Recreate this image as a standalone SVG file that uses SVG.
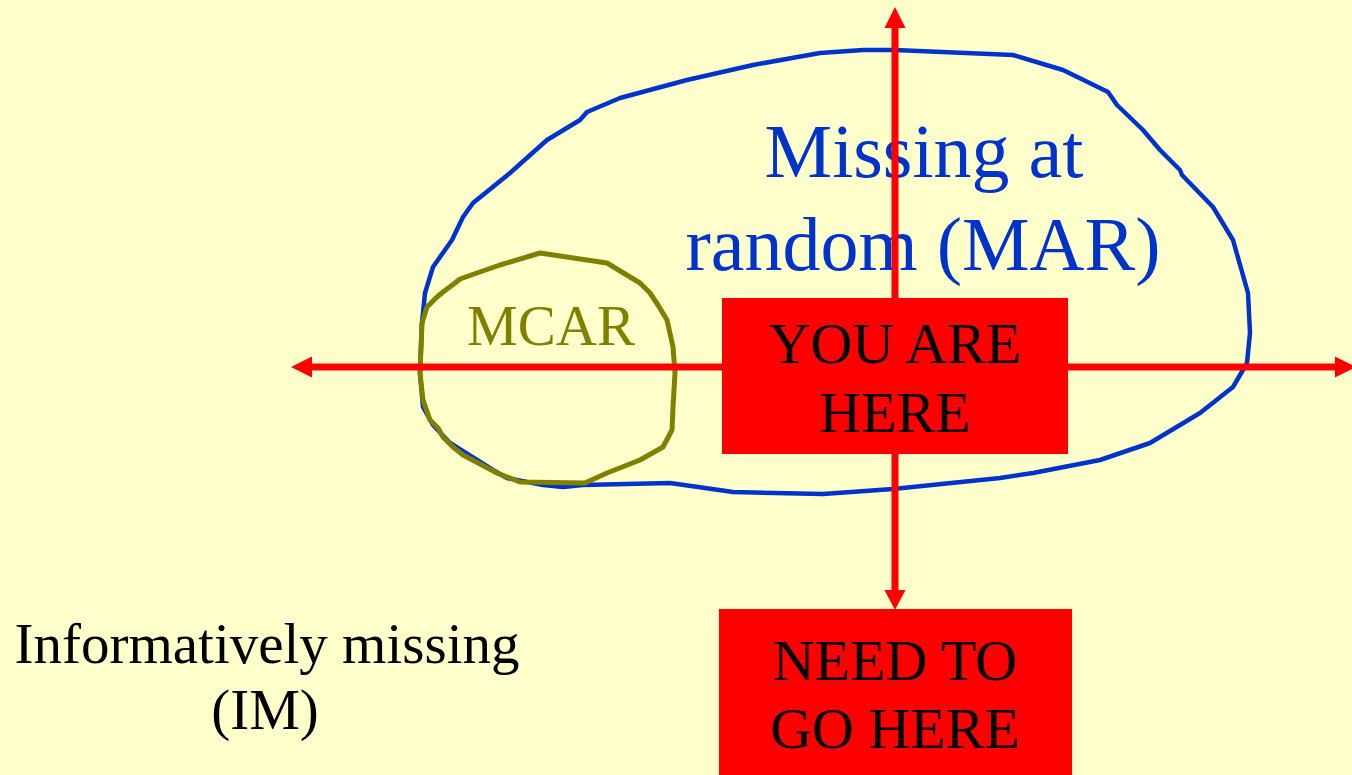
<svg xmlns="http://www.w3.org/2000/svg" width="1352" height="775" viewBox="0 0 1352 775">
<style>
.t{font-family:"Liberation Serif","Times New Roman",serif;text-anchor:middle}
.conn{stroke:#FF0000;stroke-width:7;fill:none}
.head{fill:#FF0000}
.box{fill:#FF0000}
</style>
<rect width="1352" height="775" fill="#FFFFCC"/>
<g id="mar">
<path d="M563,487 L543,485 L507,478 L493,470 L450,443 L433,425 L423,407 L420,373 L422,323 L425,293 L433,267 L452,240 L463,217 L473,203 L510,173 L547,140 L580,120 L587,112 L620,98 L687,80 L753,65 L820,53 L863,50 L895,50 L1013,55 L1063,70 L1108,92 L1117,105 L1143,130 L1160,150 L1180,170 L1182,175 L1213,207 L1233,240 L1248,293 L1250,333 L1247,363 L1233,387 L1200,413 L1150,443 L1100,460 L1033,473 L1000,478 L893,489 L823,494 L733,492 L670,483 L583,485 Z" fill="none" stroke="#0033CC" stroke-width="4.5" stroke-linejoin="round"/>
<text class="t" x="924" y="177" font-size="76" fill="#0033CC">Missing at</text>
<text class="t" x="923" y="270" font-size="76" fill="#0033CC">random (MAR)</text>
</g>
<g id="mcar">
<path d="M540,253 L607,263 L640,283 L650,293 L658,305 L667,320 L673,347 L675,373 L673,407 L672,430 L663,447 L640,460 L607,473 L585,483 L520,482 L497,473 L463,455 L453,447 L443,437 L438,428 L430,420 L423,400 L420,373 L422,323 L427,307 L437,297 L443,292 L455,283 L460,279 L477,273 L500,265 Z" fill="none" stroke="#808000" stroke-width="5" stroke-linejoin="round"/>
<text class="t" x="551" y="345" font-size="57" fill="#808000">MCAR</text>
</g>
<g id="connectors">
<line class="conn" x1="895" y1="298" x2="895" y2="26"/>
<polygon class="head" points="895,7 884.5,28 905.5,28"/>
<line class="conn" x1="722" y1="367" x2="310" y2="367"/>
<polygon class="head" points="291,367 312,356.5 312,377.5"/>
<line class="conn" x1="1068" y1="367" x2="1337" y2="367"/>
<polygon class="head" points="1356,367 1335,356.5 1335,377.5"/>
<line class="conn" x1="895" y1="454" x2="895" y2="592"/>
<polygon class="head" points="895,610 884.5,590 905.5,590"/>
</g>
<g id="you-are-here">
<rect class="box" x="722" y="298" width="346" height="156"/>
<text class="t" x="895" y="363" font-size="58" fill="#000">YOU ARE</text>
<text class="t" x="895" y="432" font-size="58" fill="#000">HERE</text>
</g>
<g id="need-to-go-here">
<rect class="box" x="719" y="609" width="353" height="166"/>
<text class="t" x="895" y="680" font-size="58" fill="#000">NEED TO</text>
<text class="t" x="895" y="748" font-size="58" fill="#000">GO HERE</text>
</g>
<g id="im">
<text class="t" x="267" y="663" font-size="57" fill="#000">Informatively missing</text>
<text class="t" x="265" y="729" font-size="57" fill="#000">(IM)</text>
</g>
</svg>
